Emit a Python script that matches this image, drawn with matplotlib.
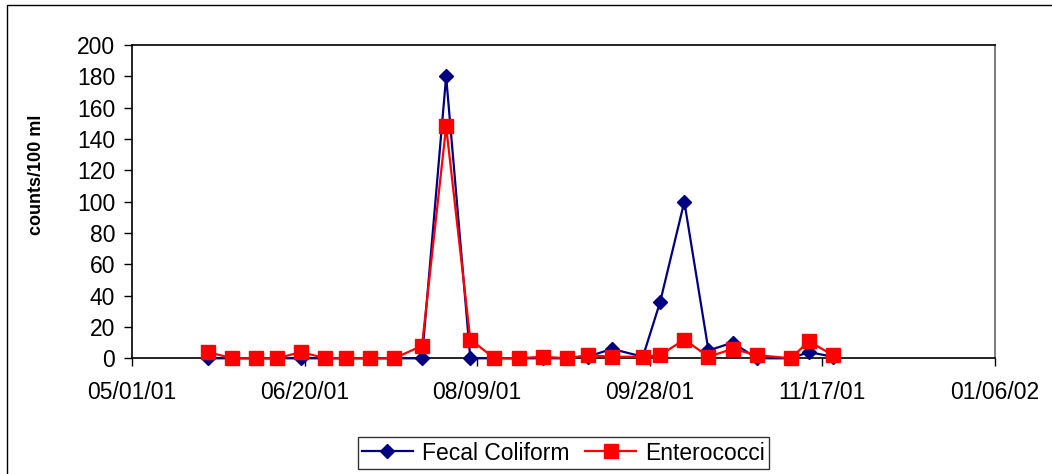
#!/usr/bin/env python3
"""Fecal coliform and enterococci counts, summer/fall 2001."""

import matplotlib
matplotlib.use("Agg")

import matplotlib.pyplot as plt
import matplotlib.dates as mdates
from matplotlib.patches import Rectangle
import pandas as pd

# sample dates
sample_dates = [
    "2001-05-23", "2001-05-30", "2001-06-06", "2001-06-12", "2001-06-19",
    "2001-06-26", "2001-07-02", "2001-07-09", "2001-07-16", "2001-07-24",
    "2001-07-31", "2001-08-07", "2001-08-14", "2001-08-21", "2001-08-28",
    "2001-09-04", "2001-09-10", "2001-09-17", "2001-09-26", "2001-10-01",
    "2001-10-08", "2001-10-15", "2001-10-22", "2001-10-29", "2001-11-08",
    "2001-11-13", "2001-11-20",
]
fecal_coliform = [0, 0, 0, 0, 0, 0, 0, 0, 0, 0, 180, 0, 0, 0, 0,
                  0, 1, 6, 1, 36, 100, 5, 10, 0, 0, 4, 1]
enterococci = [4, 0, 0, 0, 4, 0, 0, 0, 0, 8, 148, 12, 0, 0, 1,
               0, 2, 1, 1, 2, 12, 1, 6, 2, 0, 11, 2]

tick_dates = ["2001-05-01", "2001-06-20", "2001-08-09",
              "2001-09-28", "2001-11-17", "2002-01-06"]
y_ticks = list(range(0, 201, 20))

plt.rcParams["font.family"] = ["Liberation Sans", "DejaVu Sans"]

dates = pd.to_datetime(sample_dates)
ticks = pd.to_datetime(tick_dates)

fig = plt.figure(figsize=(10.52, 4.74), dpi=100)
ax = fig.add_axes([132 / 1052, 1 - 358.3 / 474, (995 - 132) / 1052, (358.3 - 45) / 474])

ax.plot(dates, fecal_coliform, color="#000080", lw=1.6, marker="D", ms=7,
        mec="#000080", mfc="#000080", label="Fecal Coliform", clip_on=False, zorder=3)
ax.plot(dates, enterococci, color="#FF0000", lw=1.6, marker="s", ms=10,
        mec="#FF0000", mfc="#FF0000", label="Enterococci", clip_on=False, zorder=4)

ax.set_xlim(ticks[0], ticks[-1])
ax.set_ylim(0, 200)
ax.set_xticks(ticks)
ax.xaxis.set_major_formatter(mdates.DateFormatter("%m/%d/%y"))
ax.set_yticks(y_ticks)
ax.tick_params(axis="both", direction="out", length=6, width=1, labelsize=16.5, colors="black")
ax.tick_params(axis="x", pad=10)
ax.tick_params(axis="y", pad=6)

for side in ["top", "left", "bottom"]:
    ax.spines[side].set_color("black")
    ax.spines[side].set_linewidth(1.2)
ax.spines["right"].set_color("#808080")
ax.spines["right"].set_linewidth(1.5)

ax.set_ylabel("counts/100 ml", fontsize=13, fontweight="bold")
ax.yaxis.set_label_coords(-0.101, 0.585)

leg = fig.legend(loc="center", bbox_to_anchor=(563.5 / 1052, 1 - 453 / 474), ncol=2,
                 fontsize=16.5, frameon=True, fancybox=False, shadow=False,
                 handlelength=2.2, columnspacing=0.7, handletextpad=0.4,
                 borderpad=0.2, borderaxespad=0)
leg.get_frame().set_edgecolor("black")
leg.get_frame().set_linewidth(1.0)

# outer chart-area border (runs off the right and bottom edges)
fig.patches.append(Rectangle((7 / 1052, -0.2), 1.2, 1.2 - 5 / 474,
                             transform=fig.transFigure, fill=False,
                             edgecolor="black", lw=1.0))

fig.savefig("out.png", dpi=100, facecolor="white")
